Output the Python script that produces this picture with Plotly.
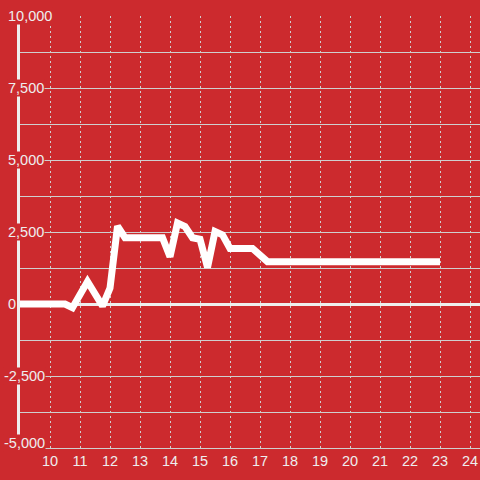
import plotly.graph_objects as go

# ---- data ----
x_vals = [9.0, 10.5, 10.75, 11.25, 11.75, 12.0, 12.25, 12.5, 13.75, 14.0, 14.25, 14.5,
          14.75, 15.0, 15.25, 15.5, 15.75, 16.0, 16.75, 17.25, 23.0]
y_vals = [0, 0, -130, 780, -70, 550, 2700, 2300, 2300, 1640, 2810, 2690,
          2300, 2250, 1270, 2520, 2400, 1930, 1930, 1470, 1470]

x_tick_vals = list(range(10, 25))
y_tick_vals = [-5000, -2500, 0, 2500, 5000, 7500, 10000]
y_tick_labels = ["-5,000", "-2,500", "0", "2,500", "5,000", "7,500", "10,000"]

BG = "#cc2a2e"
FG = "#eeeeee"
GRID = "#cfcfcf"
FONT = "Liberation Sans, Arial, sans-serif"

fig = go.Figure()
fig.add_trace(go.Scatter(x=x_vals, y=y_vals, mode="lines",
                         line=dict(color="#ffffff", width=7),
                         hoverinfo="skip", showlegend=False))

ymin = min(y_tick_vals)
annotations = []
for v, t in zip(y_tick_vals, y_tick_labels):
    annotations.append(dict(
        x=0, xref="paper", y=v, yref="y", text=t, showarrow=False,
        xanchor="left", yanchor="middle",
        xshift=-17 if t.startswith("-") else -13,
        yshift=5 if v == ymin else 0,
        bgcolor=BG, borderpad=0,
        font=dict(family=FONT, size=14.5, color=FG)))

fig.update_layout(
    width=480, height=480,
    paper_bgcolor=BG, plot_bgcolor=BG,
    margin=dict(l=20, r=0, t=16, b=32, autoexpand=False),
    showlegend=False,
    annotations=annotations,
    xaxis=dict(range=[9, 24.3333], tickvals=x_tick_vals, automargin=False,
               showgrid=True, gridcolor=GRID, gridwidth=1, griddash="2px,3px",
               zeroline=False, showline=True, linecolor=GRID, linewidth=1,
               ticks="", tickfont=dict(family=FONT, size=14.5, color=FG)),
    yaxis=dict(range=[-5000, 10000], dtick=1250, tick0=0, automargin=False,
               showticklabels=False, ticks="",
               showgrid=True, gridcolor=GRID, gridwidth=1,
               zeroline=True, zerolinecolor=FG, zerolinewidth=3,
               showline=True, linecolor=FG, linewidth=3),
)

fig.write_html("out.html", config={"displayModeBar": False},
               post_script="document.body.style.margin='0';document.body.style.overflow='hidden';")
